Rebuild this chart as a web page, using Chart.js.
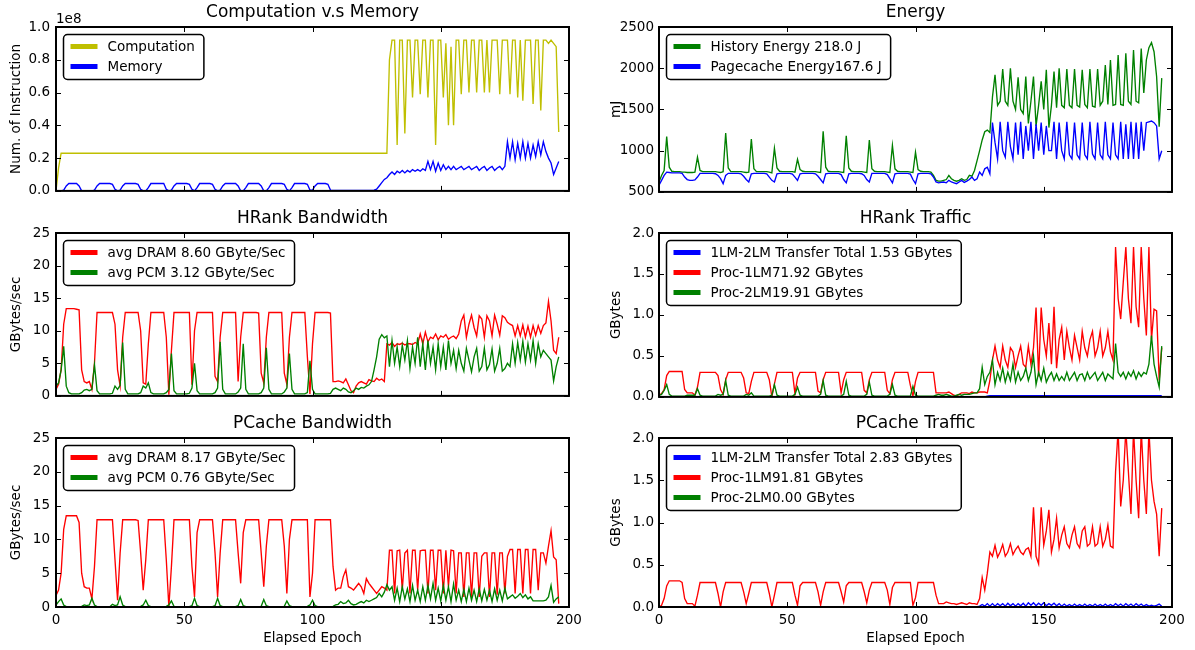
<!DOCTYPE html>
<html>
<head>
<meta charset="utf-8">
<script src="https://cdn.jsdelivr.net/npm/chart.js@4.4.1/dist/chart.umd.min.js"></script>
<style>
  body { margin: 0; background: #fff; }
  #fig { position: relative; width: 1195px; height: 650px; overflow: hidden; }
  #fig canvas { position: absolute; }
</style>
</head>
<body>
<div id="fig">
  <canvas id="cm" width="590" height="205" style="left:0;top:0"></canvas>
  <canvas id="en" width="605" height="205" style="left:590px;top:0"></canvas>
  <canvas id="hb" width="590" height="205" style="left:0;top:205px"></canvas>
  <canvas id="ht" width="605" height="205" style="left:590px;top:205px"></canvas>
  <canvas id="pb" width="590" height="240" style="left:0;top:410px"></canvas>
  <canvas id="pt" width="605" height="240" style="left:590px;top:410px"></canvas>
</div>
<script>
// one sample per epoch, epochs 0..196

const epochTicks = [0, 50, 100, 150, 200];
const instrTicks = [0, 0.2, 0.4, 0.6, 0.8, 1.0];      // x 1e8
const energyTicks = [500, 1000, 1500, 2000, 2500];
const bwTicks = [0, 5, 10, 15, 20, 25];
const trafficTicks = [0, 0.5, 1.0, 1.5, 2.0];

// instructions per epoch, in units of 1e8
const computation = [
  0, 0.14, 0.23, 0.23, 0.23, 0.23, 0.23, 0.23, 0.23, 0.23,
  0.23, 0.23, 0.23, 0.23, 0.23, 0.23, 0.23, 0.23, 0.23, 0.23,
  0.23, 0.23, 0.23, 0.23, 0.23, 0.23, 0.23, 0.23, 0.23, 0.23,
  0.23, 0.23, 0.23, 0.23, 0.23, 0.23, 0.23, 0.23, 0.23, 0.23,
  0.23, 0.23, 0.23, 0.23, 0.23, 0.23, 0.23, 0.23, 0.23, 0.23,
  0.23, 0.23, 0.23, 0.23, 0.23, 0.23, 0.23, 0.23, 0.23, 0.23,
  0.23, 0.23, 0.23, 0.23, 0.23, 0.23, 0.23, 0.23, 0.23, 0.23,
  0.23, 0.23, 0.23, 0.23, 0.23, 0.23, 0.23, 0.23, 0.23, 0.23,
  0.23, 0.23, 0.23, 0.23, 0.23, 0.23, 0.23, 0.23, 0.23, 0.23,
  0.23, 0.23, 0.23, 0.23, 0.23, 0.23, 0.23, 0.23, 0.23, 0.23,
  0.23, 0.23, 0.23, 0.23, 0.23, 0.23, 0.23, 0.23, 0.23, 0.23,
  0.23, 0.23, 0.23, 0.23, 0.23, 0.23, 0.23, 0.23, 0.23, 0.23,
  0.23, 0.23, 0.23, 0.23, 0.23, 0.23, 0.23, 0.23, 0.23, 0.23,
  0.8, 0.92, 0.92, 0.28, 0.92, 0.92, 0.35, 0.92, 0.92, 0.57,
  0.92, 0.92, 0.59, 0.92, 0.92, 0.57, 0.92, 0.92, 0.28, 0.92,
  0.92, 0.57, 0.9, 0.4, 0.88, 0.4, 0.92, 0.92, 0.59, 0.92,
  0.92, 0.6, 0.92, 0.92, 0.6, 0.92, 0.92, 0.6, 0.92, 0.6,
  0.92, 0.92, 0.92, 0.59, 0.92, 0.92, 0.92, 0.59, 0.92, 0.92,
  0.57, 0.92, 0.55, 0.92, 0.92, 0.92, 0.53, 0.92, 0.92, 0.49,
  0.92, 0.92, 0.9, 0.92, 0.9, 0.88, 0.36
];
const memory = [
  0, 0, 0, 0.005, 0.03, 0.045, 0.045, 0.045, 0.045, 0.03,
  0, 0, 0, 0, 0, 0.005, 0.03, 0.045, 0.045, 0.045,
  0.045, 0.045, 0.04, 0.01, 0, 0.005, 0.03, 0.045, 0.045, 0.045,
  0.045, 0.045, 0.04, 0.01, 0, 0, 0.02, 0.045, 0.045, 0.045,
  0.045, 0.045, 0.045, 0.01, 0, 0.005, 0.03, 0.045, 0.045, 0.045,
  0.045, 0.045, 0.04, 0.01, 0, 0.02, 0.045, 0.045, 0.045, 0.045,
  0.045, 0.04, 0.01, 0, 0.005, 0.03, 0.045, 0.045, 0.045, 0.045,
  0.045, 0.03, 0, 0, 0.02, 0.045, 0.045, 0.045, 0.045, 0.045,
  0.03, 0, 0, 0.02, 0.045, 0.045, 0.045, 0.045, 0.045, 0.04,
  0.01, 0, 0.02, 0.045, 0.045, 0.045, 0.045, 0.045, 0.04, 0.005,
  0.005, 0.03, 0.045, 0.045, 0.045, 0.045, 0.04, 0.005, 0.003, 0.003,
  0.003, 0.003, 0.003, 0.003, 0.003, 0.003, 0.003, 0.003, 0.003, 0.003,
  0.003, 0.003, 0.003, 0.003, 0.005, 0.01, 0.03, 0.05, 0.07, 0.08,
  0.1, 0.115, 0.1, 0.12, 0.11, 0.125, 0.11, 0.125, 0.115, 0.13,
  0.12, 0.13, 0.12, 0.135, 0.125, 0.18, 0.13, 0.18, 0.12, 0.17,
  0.125, 0.16, 0.13, 0.15, 0.13, 0.15, 0.13, 0.14, 0.15, 0.13,
  0.14, 0.15, 0.13, 0.14, 0.15, 0.125, 0.14, 0.15, 0.125, 0.14,
  0.15, 0.125, 0.14, 0.15, 0.13, 0.15, 0.3, 0.2, 0.3, 0.19,
  0.29, 0.2, 0.3, 0.2, 0.29, 0.2, 0.28, 0.21, 0.3, 0.22,
  0.3, 0.24, 0.2, 0.17, 0.1, 0.14, 0.18
];

// energy per epoch, mJ
const historyEnergy = [
  620, 700, 760, 1170, 800, 750, 745, 745, 745, 740,
  740, 735, 735, 735, 740, 920, 760, 745, 745, 745,
  745, 745, 745, 740, 735, 745, 1215, 790, 745, 745,
  745, 745, 745, 740, 735, 740, 1140, 780, 745, 745,
  745, 745, 745, 740, 730, 1030, 790, 750, 745, 745,
  745, 745, 745, 740, 895, 770, 750, 745, 745, 745,
  745, 745, 740, 735, 1235, 800, 750, 745, 745, 745,
  745, 740, 735, 1180, 790, 750, 745, 745, 745, 745,
  740, 735, 1130, 780, 750, 745, 745, 745, 745, 740,
  735, 1065, 780, 750, 745, 745, 745, 745, 740, 735,
  980, 770, 750, 745, 745, 745, 740, 700, 640, 630,
  630, 640, 650, 700, 660, 640, 630, 640, 660, 640,
  650, 700, 690, 760, 880, 1000, 1130, 1230, 1250, 1220,
  1650, 1920, 1550, 1600, 1990, 1600, 1550, 2000, 1600, 1500,
  1890, 1500, 1450, 1900, 1330, 1600, 1900, 1300, 1550, 1840,
  1500, 1980, 1280, 1550, 1960, 1520, 2000, 1550, 1520, 1990,
  1550, 1520, 1990, 1550, 1530, 1980, 1560, 1520, 1990, 1540,
  1530, 1990, 1550, 1600, 2040, 1560, 2100, 1550, 1560, 2160,
  1560, 1550, 2180, 1600, 1560, 2220, 1600, 1580, 2240, 1700,
  2100, 2250, 2310, 2200, 1900, 1290, 1880
];
const pagecacheEnergy = [
  580, 640, 700, 740, 735, 730, 730, 730, 730, 725,
  680, 650, 640, 640, 645, 680, 725, 725, 725, 725,
  725, 725, 720, 700, 660, 600, 700, 725, 725, 725,
  725, 725, 720, 690, 650, 620, 720, 725, 725, 725,
  725, 725, 720, 680, 640, 620, 720, 725, 725, 725,
  725, 725, 715, 680, 640, 720, 725, 725, 725, 725,
  725, 720, 690, 650, 610, 720, 725, 725, 725, 725,
  725, 710, 650, 610, 720, 725, 725, 725, 725, 720,
  700, 650, 620, 725, 725, 725, 725, 725, 725, 710,
  660, 610, 720, 725, 725, 725, 725, 725, 715, 650,
  600, 720, 725, 725, 725, 725, 720, 680, 620, 610,
  615, 620, 610, 640, 620, 610, 600, 620, 640, 615,
  630, 650, 680, 640, 660, 740, 700, 780, 800, 720,
  1340, 1100, 900, 1350, 1000, 920, 1350, 1050, 900, 1340,
  950, 1350, 900, 1300, 1000, 1350, 900, 1320, 1000, 1340,
  950, 1300, 1000, 1000, 1350, 900, 1340, 1000, 900, 1350,
  950, 900, 1340, 950, 900, 1340, 950, 900, 1350, 960,
  900, 1340, 950, 900, 1350, 950, 900, 1340, 950, 900,
  1350, 900, 1320, 900, 1350, 900, 1340, 900, 1350, 1000,
  1340, 1350, 1360, 1340, 1300, 900, 1000
];

// HRank bandwidth, GByte/s
const hrankDram = [
  1.0, 1.8, 4.0, 11.0, 13.4, 13.4, 13.4, 13.4, 13.3, 13.2,
  4.0, 2.2, 2.0, 2.2, 1.0, 5.0, 12.8, 12.8, 12.8, 12.8,
  12.8, 12.8, 12.8, 11.0, 4.0, 1.5, 9.0, 12.8, 12.8, 12.8,
  12.8, 12.8, 12.8, 10.0, 2.0, 1.8, 8.0, 12.8, 12.8, 12.8,
  12.8, 12.8, 12.8, 9.0, 0.2, 7.0, 12.8, 12.8, 12.8, 12.8,
  12.8, 12.8, 12.8, 1.7, 10.0, 12.8, 12.8, 12.8, 12.8, 12.8,
  12.8, 12.8, 3.0, 2.2, 9.0, 12.8, 12.8, 12.8, 12.8, 12.8,
  12.8, 2.2, 9.0, 12.8, 12.8, 12.8, 12.8, 12.8, 12.8, 12.7,
  3.5, 2.0, 9.0, 12.8, 12.8, 12.8, 12.8, 12.8, 12.8, 3.5,
  1.8, 9.0, 12.8, 12.8, 12.8, 12.8, 12.8, 12.8, 6.0, 0.3,
  8.0, 12.8, 12.8, 12.8, 12.8, 12.8, 12.8, 12.7, 2.2, 2.2,
  2.3, 2.2, 2.0, 2.6, 1.7, 0.8, 0.5, 1.5, 2.0, 2.2,
  2.0, 1.8, 2.5, 2.3, 2.2, 2.7, 2.4, 2.6, 2.2, 8.0,
  7.8, 8.2, 7.6, 8.0, 7.9, 8.1, 7.8, 8.0, 8.0, 7.9,
  8.2, 8.0, 9.5, 8.0, 9.8, 8.3, 9.0, 8.8, 9.5, 8.6,
  9.2, 9.0, 9.4, 8.7, 9.0, 9.2, 8.8, 9.5, 11.5, 12.4,
  9.0, 11.0, 12.4, 10.5, 9.2, 12.3, 11.8, 9.0, 12.3, 11.5,
  9.2, 12.4, 11.0, 9.3, 12.3, 12.0, 11.3, 11.0, 10.8, 9.2,
  10.8, 9.2, 10.9, 9.0, 10.7, 9.0, 10.8, 9.3, 10.8, 9.6,
  10.8, 11.2, 14.5, 11.5, 7.0, 6.5, 9.0
];
const hrankPcm = [
  1.5, 2.0, 4.0, 7.6, 1.5, 0.5, 0.3, 0.3, 0.3, 0.3,
  0.5, 0.9, 1.0, 0.8, 1.0, 4.8, 0.8, 0.3, 0.3, 0.3,
  0.3, 0.3, 0.4, 1.5, 1.0, 1.6, 8.2, 1.0, 0.3, 0.3,
  0.3, 0.3, 0.3, 0.5, 1.5, 1.2, 2.0, 0.5, 0.3, 0.3,
  0.3, 0.3, 0.3, 0.5, 1.0, 6.5, 0.8, 0.3, 0.3, 0.3,
  0.3, 0.3, 0.4, 1.2, 5.0, 0.8, 0.3, 0.3, 0.3, 0.3,
  0.3, 0.3, 0.5, 1.2, 8.3, 1.0, 0.3, 0.3, 0.3, 0.3,
  0.3, 0.6, 1.2, 8.0, 1.0, 0.3, 0.3, 0.3, 0.3, 0.3,
  0.5, 1.2, 7.4, 1.0, 0.3, 0.3, 0.3, 0.3, 0.3, 0.6,
  1.2, 6.5, 1.0, 0.3, 0.3, 0.3, 0.3, 0.3, 0.5, 5.4,
  1.0, 0.3, 0.3, 0.3, 0.3, 0.3, 0.3, 0.4, 1.0, 1.2,
  1.0, 0.8, 1.2, 1.0, 0.6, 0.5, 0.8, 1.2, 1.0, 1.3,
  1.2, 1.5, 1.7, 2.2, 4.0, 6.0, 8.7, 9.4, 8.9, 9.2,
  4.5, 8.5, 5.0, 7.5, 4.5, 7.8, 5.5, 8.5, 4.2, 7.5,
  5.0, 9.0, 4.5, 8.0, 4.0, 8.5, 5.0, 7.5, 4.0, 8.0,
  4.5, 7.5, 4.0, 8.5, 5.0, 7.0, 4.2, 7.0, 5.0, 3.8,
  7.3, 5.5, 3.7, 6.0, 7.3, 3.8, 4.5, 7.3, 4.0, 4.8,
  7.2, 3.8, 5.0, 7.3, 3.8, 4.2, 5.0, 4.5, 8.0, 5.0,
  8.2, 5.5, 8.4, 5.2, 8.0, 5.5, 8.5, 5.0, 8.0, 6.0,
  7.0, 6.5, 6.0, 5.5, 2.3, 4.5, 6.0
];

// HRank traffic, GBytes per epoch
const hrankXfer = [
  0, 0, 0, 0, 0, 0, 0, 0, 0, 0,
  0, 0, 0, 0, 0, 0, 0, 0, 0, 0,
  0, 0, 0, 0, 0, 0, 0, 0, 0, 0,
  0, 0, 0, 0, 0, 0, 0, 0, 0, 0,
  0, 0, 0, 0, 0, 0, 0, 0, 0, 0,
  0, 0, 0, 0, 0, 0, 0, 0, 0, 0,
  0, 0, 0, 0, 0, 0, 0, 0, 0, 0,
  0, 0, 0, 0, 0, 0, 0, 0, 0, 0,
  0, 0, 0, 0, 0, 0, 0, 0, 0, 0,
  0, 0, 0, 0, 0, 0, 0, 0, 0, 0,
  0, 0, 0, 0, 0, 0, 0, 0, 0, 0,
  0, 0, 0, 0, 0, 0, 0, 0, 0, 0,
  0, 0, 0, 0, 0, 0, 0, 0, 0.01, 0.015,
  0.015, 0.015, 0.015, 0.015, 0.015, 0.015, 0.015, 0.015, 0.015, 0.015,
  0.015, 0.015, 0.015, 0.015, 0.015, 0.015, 0.015, 0.015, 0.015, 0.015,
  0.015, 0.015, 0.015, 0.015, 0.015, 0.015, 0.015, 0.015, 0.015, 0.015,
  0.015, 0.015, 0.015, 0.015, 0.015, 0.015, 0.015, 0.015, 0.015, 0.015,
  0.015, 0.015, 0.015, 0.015, 0.015, 0.015, 0.015, 0.015, 0.015, 0.015,
  0.015, 0.015, 0.015, 0.015, 0.015, 0.015, 0.015, 0.015, 0.015, 0.015,
  0.015, 0.015, 0.015, 0.015, 0.015, 0.015, 0.015
];
const hrankProc1 = [
  0.02, 0.04, 0.09, 0.26, 0.31, 0.31, 0.31, 0.31, 0.31, 0.31,
  0.09, 0.05, 0.05, 0.05, 0.02, 0.12, 0.30, 0.30, 0.30, 0.30,
  0.30, 0.30, 0.30, 0.26, 0.09, 0.03, 0.21, 0.30, 0.30, 0.30,
  0.30, 0.30, 0.30, 0.23, 0.05, 0.04, 0.19, 0.30, 0.30, 0.30,
  0.30, 0.30, 0.30, 0.21, 0.0, 0.16, 0.30, 0.30, 0.30, 0.30,
  0.30, 0.30, 0.30, 0.04, 0.23, 0.30, 0.30, 0.30, 0.30, 0.30,
  0.30, 0.30, 0.07, 0.05, 0.21, 0.30, 0.30, 0.30, 0.30, 0.30,
  0.30, 0.05, 0.21, 0.30, 0.30, 0.30, 0.30, 0.30, 0.30, 0.30,
  0.08, 0.05, 0.21, 0.30, 0.30, 0.30, 0.30, 0.30, 0.30, 0.08,
  0.04, 0.21, 0.30, 0.30, 0.30, 0.30, 0.30, 0.30, 0.14, 0.01,
  0.19, 0.30, 0.30, 0.30, 0.30, 0.30, 0.30, 0.30, 0.05, 0.05,
  0.05, 0.05, 0.05, 0.06, 0.04, 0.02, 0.01, 0.03, 0.05, 0.05,
  0.05, 0.04, 0.06, 0.05, 0.05, 0.06, 0.06, 0.06, 0.05, 0.2,
  0.45, 0.62, 0.45, 0.36, 0.62, 0.45, 0.36, 0.6, 0.55, 0.36,
  0.5, 0.62, 0.4, 0.36, 0.62, 0.4, 0.6, 1.09, 0.25, 1.09,
  0.7, 0.5, 0.9, 0.4, 1.1, 0.35, 0.7, 0.85, 0.45, 0.8,
  0.6, 0.45, 0.75, 0.6, 0.45, 0.8, 0.6, 0.5, 0.7, 0.8,
  0.5, 0.6, 0.8, 0.5, 0.6, 0.8, 0.55, 0.45, 1.83, 1.2,
  0.95, 1.4, 1.83, 1.2, 0.9, 1.83, 1.1, 0.85, 1.83, 1.2,
  0.75, 1.83, 0.7, 1.07, 1.05, 0.2, 0.6
];
const hrankProc2 = [
  0.02, 0.03, 0.08, 0.15, 0.03, 0.01, 0.01, 0.01, 0.01, 0.01,
  0.01, 0.02, 0.02, 0.02, 0.02, 0.1, 0.02, 0.01, 0.01, 0.01,
  0.01, 0.01, 0.01, 0.03, 0.02, 0.03, 0.2, 0.02, 0.01, 0.01,
  0.01, 0.01, 0.01, 0.01, 0.03, 0.02, 0.05, 0.01, 0.01, 0.01,
  0.01, 0.01, 0.01, 0.01, 0.02, 0.15, 0.02, 0.01, 0.01, 0.01,
  0.01, 0.01, 0.01, 0.03, 0.12, 0.02, 0.01, 0.01, 0.01, 0.01,
  0.01, 0.01, 0.01, 0.03, 0.2, 0.02, 0.01, 0.01, 0.01, 0.01,
  0.01, 0.01, 0.03, 0.19, 0.02, 0.01, 0.01, 0.01, 0.01, 0.01,
  0.01, 0.03, 0.18, 0.02, 0.01, 0.01, 0.01, 0.01, 0.01, 0.01,
  0.03, 0.15, 0.02, 0.01, 0.01, 0.01, 0.01, 0.01, 0.01, 0.13,
  0.02, 0.01, 0.01, 0.01, 0.01, 0.01, 0.01, 0.01, 0.02, 0.03,
  0.02, 0.02, 0.03, 0.02, 0.01, 0.01, 0.02, 0.03, 0.02, 0.03,
  0.03, 0.03, 0.04, 0.05, 0.05, 0.1, 0.36, 0.15, 0.25, 0.3,
  0.45, 0.15, 0.3, 0.2, 0.35, 0.18, 0.3, 0.2, 0.4, 0.18,
  0.3, 0.2, 0.25, 0.35, 0.2, 0.3, 0.5, 0.15, 0.3, 0.2,
  0.35, 0.18, 0.25, 0.3, 0.2, 0.28, 0.2, 0.25, 0.2, 0.3,
  0.2, 0.25, 0.3, 0.2, 0.27, 0.28, 0.2, 0.3, 0.22, 0.26,
  0.3, 0.2, 0.25, 0.3, 0.2, 0.28, 0.25, 0.22, 0.65, 0.3,
  0.25, 0.3, 0.22, 0.3, 0.25, 0.32, 0.22, 0.3, 0.25, 0.3,
  0.28, 0.4, 0.75, 0.4, 0.25, 0.12, 0.62
];

// PCache bandwidth, GByte/s
const pcacheDram = [
  1.7, 2.5, 5.0, 11.5, 13.5, 13.5, 13.5, 13.5, 13.5, 12.5,
  5.0, 3.0, 2.8, 2.8, 1.2, 6.0, 12.9, 12.9, 12.9, 12.9,
  12.9, 12.9, 12.9, 7.0, 1.0, 8.0, 12.9, 12.9, 12.9, 12.9,
  12.9, 12.9, 12.8, 8.0, 2.5, 7.0, 12.9, 12.9, 12.9, 12.9,
  12.9, 12.9, 12.9, 7.0, 0.0, 6.0, 12.9, 12.9, 12.9, 12.9,
  12.9, 12.9, 12.9, 6.0, 1.5, 11.0, 12.9, 12.9, 12.9, 12.9,
  12.9, 12.9, 8.0, 1.5, 8.0, 12.9, 12.9, 12.9, 12.9, 12.9,
  12.9, 8.0, 3.5, 11.0, 12.9, 12.9, 12.9, 12.9, 12.9, 12.9,
  8.0, 3.0, 9.0, 12.9, 12.9, 12.9, 12.9, 12.9, 12.9, 9.0,
  2.0, 10.0, 12.9, 12.9, 12.9, 12.9, 12.9, 12.9, 12.9, 1.5,
  5.0, 12.9, 12.9, 12.9, 12.9, 12.9, 12.9, 12.9, 6.0, 2.5,
  2.8, 2.8, 4.5, 5.5, 3.0, 2.8, 2.5, 3.0, 3.5, 3.0,
  2.0, 4.2, 3.5, 3.0, 2.5, 2.0, 2.5, 3.0, 2.8, 2.5,
  8.4, 8.4, 2.0, 8.3, 8.4, 2.5, 8.0, 8.4, 2.0, 8.4,
  8.4, 2.5, 8.3, 8.4, 8.4, 2.0, 8.4, 8.4, 2.5, 8.4,
  8.4, 2.0, 8.4, 3.0, 8.4, 8.3, 2.0, 8.0, 8.0, 1.5,
  8.0, 8.0, 1.5, 8.0, 8.0, 1.5, 7.5, 8.0, 8.0, 1.5,
  8.0, 8.0, 1.8, 8.0, 8.0, 2.0, 7.5, 8.5, 8.5, 2.0,
  8.5, 8.5, 2.0, 8.5, 8.5, 2.0, 8.5, 8.5, 2.5, 8.0,
  8.0, 6.5, 9.0, 11.3, 7.4, 7.0, 0.5
];
const pcachePcm = [
  0.3, 0.8, 1.2, 0.3, 0.05, 0.05, 0.05, 0.05, 0.05, 0.05,
  0.1, 0.3, 0.2, 0.3, 1.3, 0.3, 0.05, 0.05, 0.05, 0.05,
  0.05, 0.05, 0.4, 0.2, 0.3, 1.5, 0.3, 0.05, 0.05, 0.05,
  0.05, 0.05, 0.05, 0.1, 0.3, 1.0, 0.2, 0.05, 0.05, 0.05,
  0.05, 0.05, 0.05, 0.1, 0.3, 0.9, 0.1, 0.05, 0.05, 0.05,
  0.05, 0.05, 0.05, 0.2, 1.3, 0.2, 0.05, 0.05, 0.05, 0.05,
  0.05, 0.05, 0.2, 1.3, 0.2, 0.05, 0.05, 0.05, 0.05, 0.05,
  0.05, 0.2, 1.1, 0.2, 0.05, 0.05, 0.05, 0.05, 0.05, 0.05,
  0.1, 1.1, 0.2, 0.05, 0.05, 0.05, 0.05, 0.05, 0.05, 0.1,
  0.9, 0.2, 0.05, 0.05, 0.05, 0.05, 0.05, 0.05, 0.1, 0.3,
  1.0, 0.2, 0.05, 0.05, 0.05, 0.05, 0.05, 0.05, 0.1, 0.3,
  0.4, 0.8, 0.5, 0.6, 1.0, 0.5, 0.3, 0.4, 0.6, 0.8,
  0.6, 1.0, 0.8, 1.0, 1.2, 1.4, 2.0, 1.5, 2.2, 3.3,
  2.5, 3.0, 1.0, 2.8, 0.8, 3.0, 1.2, 2.7, 0.8, 3.2,
  1.0, 2.5, 0.8, 3.0, 1.0, 3.2, 1.2, 3.5, 1.0, 2.8,
  0.9, 3.2, 1.0, 3.0, 0.8, 3.4, 1.0, 2.5, 0.8, 2.6,
  0.8, 2.8, 1.0, 2.5, 0.8, 2.7, 0.9, 2.6, 1.0, 2.5,
  0.8, 2.7, 1.0, 2.5, 0.9, 2.8, 1.2, 1.5, 1.8, 1.3,
  1.6, 2.0, 1.4, 1.8, 1.2, 1.5, 0.9, 0.9, 0.9, 0.9,
  0.9, 1.0, 1.5, 3.2, 0.7, 1.2, 1.5
];

// PCache traffic, GBytes per epoch
const pcacheXfer = [
  0, 0, 0, 0, 0, 0, 0, 0, 0, 0,
  0, 0, 0, 0, 0, 0, 0, 0, 0, 0,
  0, 0, 0, 0, 0, 0, 0, 0, 0, 0,
  0, 0, 0, 0, 0, 0, 0, 0, 0, 0,
  0, 0, 0, 0, 0, 0, 0, 0, 0, 0,
  0, 0, 0, 0, 0, 0, 0, 0, 0, 0,
  0, 0, 0, 0, 0, 0, 0, 0, 0, 0,
  0, 0, 0, 0, 0, 0, 0, 0, 0, 0,
  0, 0, 0, 0, 0, 0, 0, 0, 0, 0,
  0, 0, 0, 0, 0, 0, 0, 0, 0, 0,
  0, 0, 0, 0, 0, 0, 0, 0, 0, 0,
  0, 0, 0, 0, 0, 0, 0, 0, 0, 0,
  0, 0, 0, 0, 0, 0.01, 0.03, 0.01, 0.04, 0.01,
  0.04, 0.01, 0.04, 0.015, 0.04, 0.01, 0.045, 0.015, 0.04, 0.01,
  0.04, 0.015, 0.045, 0.01, 0.05, 0.02, 0.05, 0.015, 0.045, 0.02,
  0.05, 0.015, 0.04, 0.02, 0.045, 0.015, 0.04, 0.01, 0.035, 0.01,
  0.03, 0.01, 0.035, 0.01, 0.03, 0.01, 0.035, 0.01, 0.03, 0.01,
  0.035, 0.01, 0.03, 0.01, 0.035, 0.01, 0.03, 0.01, 0.04, 0.015,
  0.035, 0.01, 0.04, 0.015, 0.035, 0.01, 0.04, 0.015, 0.035, 0.01,
  0.03, 0.01, 0.02, 0.01, 0.02, 0.035, 0.01
];
const pcacheProc1 = [
  0.0, 0.02, 0.1, 0.25, 0.31, 0.31, 0.31, 0.31, 0.31, 0.29,
  0.1, 0.04, 0.04, 0.04, 0.01, 0.14, 0.29, 0.29, 0.29, 0.29,
  0.29, 0.29, 0.29, 0.16, 0.0, 0.18, 0.29, 0.29, 0.29, 0.29,
  0.29, 0.29, 0.29, 0.18, 0.04, 0.16, 0.29, 0.29, 0.29, 0.29,
  0.29, 0.29, 0.29, 0.16, 0.0, 0.14, 0.29, 0.29, 0.29, 0.29,
  0.29, 0.29, 0.29, 0.14, 0.02, 0.25, 0.29, 0.29, 0.29, 0.29,
  0.29, 0.29, 0.18, 0.02, 0.18, 0.29, 0.29, 0.29, 0.29, 0.29,
  0.29, 0.18, 0.06, 0.25, 0.29, 0.29, 0.29, 0.29, 0.29, 0.29,
  0.18, 0.05, 0.2, 0.29, 0.29, 0.29, 0.29, 0.29, 0.29, 0.2,
  0.03, 0.23, 0.29, 0.29, 0.29, 0.29, 0.29, 0.29, 0.29, 0.02,
  0.11, 0.29, 0.29, 0.29, 0.29, 0.29, 0.29, 0.29, 0.14, 0.04,
  0.04, 0.04, 0.06, 0.05, 0.04, 0.04, 0.03, 0.04, 0.05, 0.04,
  0.03, 0.05, 0.04, 0.04, 0.03, 0.1, 0.35, 0.2, 0.4, 0.65,
  0.6, 0.73, 0.59, 0.65, 0.74, 0.6, 0.65, 0.75, 0.62, 0.68,
  0.72, 0.65, 0.62, 0.68, 0.7, 0.6, 1.18, 0.6, 0.51, 1.18,
  0.73, 0.9, 1.15, 0.65, 0.8, 1.05, 0.7, 0.85, 0.95, 0.75,
  0.7, 0.85, 0.95, 0.75, 0.7, 0.9, 0.95, 0.72, 0.75, 0.95,
  0.72, 0.75, 0.95, 0.72, 0.8, 0.97, 0.72, 0.7, 1.6, 2.1,
  1.19, 1.5, 2.1, 1.6, 1.1, 2.1, 1.5, 1.05, 2.1, 1.5,
  1.1, 2.1, 1.5, 1.25, 1.1, 0.6, 1.17
];
const pcacheProc2 = [
  0, 0, 0, 0, 0, 0, 0, 0, 0, 0,
  0, 0, 0, 0, 0, 0, 0, 0, 0, 0,
  0, 0, 0, 0, 0, 0, 0, 0, 0, 0,
  0, 0, 0, 0, 0, 0, 0, 0, 0, 0,
  0, 0, 0, 0, 0, 0, 0, 0, 0, 0,
  0, 0, 0, 0, 0, 0, 0, 0, 0, 0,
  0, 0, 0, 0, 0, 0, 0, 0, 0, 0,
  0, 0, 0, 0, 0, 0, 0, 0, 0, 0,
  0, 0, 0, 0, 0, 0, 0, 0, 0, 0,
  0, 0, 0, 0, 0, 0, 0, 0, 0, 0,
  0, 0, 0, 0, 0, 0, 0, 0, 0, 0,
  0, 0, 0, 0, 0, 0, 0, 0, 0, 0,
  0, 0, 0, 0, 0, 0, 0, 0, 0, 0,
  0, 0, 0, 0, 0, 0, 0, 0, 0, 0,
  0, 0, 0, 0, 0, 0, 0, 0, 0, 0,
  0, 0, 0, 0, 0, 0, 0, 0, 0, 0,
  0, 0, 0, 0, 0, 0, 0, 0, 0, 0,
  0, 0, 0, 0, 0, 0, 0, 0, 0, 0,
  0, 0, 0, 0, 0, 0, 0, 0, 0, 0,
  0, 0, 0, 0, 0, 0, 0
];

const FONT = "'DejaVu Sans', 'Bitstream Vera Sans', Verdana, sans-serif";
const YELLOW = '#bfbf00', BLUE = '#0000ff', GREEN = '#008000', RED = '#ff0000';

// chart-area placement per column / row, in canvas pixels
const COLS = [
  { axisW: 56, padR: 21, titlePad: 8, tickPad: 6 },
  { axisW: 69, padR: 23, titlePad: 18, tickPad: 5 }
];
const ROWS = [
  { padT: 27, xAxisH: 9 },
  { padT: 28, xAxisH: 8 },
  { padT: 28, xAxisH: 43 }
];

// frame, inward ticks, boxed legend and panel title, matplotlib style
function decor(cfg) {
  return {
    id: 'decor',
    afterDatasetsDraw(chart) {
      const { ctx, chartArea: a, scales } = chart;
      ctx.save();

      ctx.strokeStyle = '#000';
      ctx.lineWidth = 1;
      ctx.beginPath();
      scales.x.ticks.forEach(t => {
        const px = Math.round(scales.x.getPixelForValue(t.value)) + 0.5;
        ctx.moveTo(px, a.bottom); ctx.lineTo(px, a.bottom - 5);
        ctx.moveTo(px, a.top); ctx.lineTo(px, a.top + 5);
      });
      scales.y.ticks.forEach(t => {
        const py = Math.round(scales.y.getPixelForValue(t.value)) + 0.5;
        ctx.moveTo(a.left, py); ctx.lineTo(a.left + 5, py);
        ctx.moveTo(a.right, py); ctx.lineTo(a.right - 5, py);
      });
      ctx.stroke();

      ctx.lineWidth = 2;
      ctx.strokeRect(a.left, a.top, a.right - a.left, a.bottom - a.top);

      // legend
      ctx.font = '13.5px ' + FONT;
      const textW = Math.max(...cfg.series.map(s => ctx.measureText(s.label).width));
      const bx = a.left + 7.5, by = a.top + 7.5;
      const bw = 44 + textW + 9, bh = 20 * cfg.series.length + 5;
      ctx.beginPath();
      ctx.roundRect(bx, by, bw, bh, 4);
      ctx.fillStyle = '#fff';
      ctx.fill();
      ctx.lineWidth = 1.5;
      ctx.strokeStyle = '#000';
      ctx.stroke();
      ctx.textBaseline = 'middle';
      ctx.textAlign = 'left';
      cfg.series.forEach((s, i) => {
        const cy = by + 12 + 20 * i;
        ctx.beginPath();
        ctx.moveTo(bx + 7, cy);
        ctx.lineTo(bx + 34, cy);
        ctx.lineWidth = 5;
        ctx.strokeStyle = s.color;
        ctx.stroke();
        ctx.fillStyle = '#000';
        ctx.fillText(s.label, bx + 44, cy + 1);
      });

      // title
      ctx.font = '17px ' + FONT;
      ctx.textAlign = 'center';
      ctx.fillText(cfg.title, (a.left + a.right) / 2, a.top - 14);

      if (cfg.offsetText) {
        ctx.font = '13.5px ' + FONT;
        ctx.textAlign = 'left';
        ctx.textBaseline = 'alphabetic';
        ctx.fillText(cfg.offsetText, a.left, a.top - 4);
      }
      ctx.restore();
    }
  };
}

function drawPanel(id, row, col, cfg) {
  const L = COLS[col], R = ROWS[row];
  const bottomRow = row === 2;
  const font = { family: FONT, size: 13.5 };
  new Chart(document.getElementById(id), {
    type: 'line',
    data: {
      datasets: cfg.series.map((s, i) => ({
        label: s.label,
        data: s.values.map((v, k) => ({ x: k, y: v })),
        borderColor: s.color,
        borderWidth: 1.35,
        pointRadius: 0,
        tension: 0,
        fill: false,
        order: cfg.series.length - 1 - i
      }))
    },
    options: {
      responsive: false,
      animation: false,
      events: [],
      layout: { padding: { left: 0, right: L.padR, top: R.padT, bottom: 0 } },
      plugins: { legend: { display: false }, tooltip: { enabled: false } },
      scales: {
        x: {
          type: 'linear',
          min: 0,
          max: 200,
          grid: { display: false, drawTicks: false },
          border: { display: false },
          afterBuildTicks: s => { s.ticks = epochTicks.map(v => ({ value: v })); },
          ticks: { display: bottomRow, padding: 5, color: '#000', font, maxRotation: 0 },
          title: { display: bottomRow, text: 'Elapsed Epoch', color: '#000', font, padding: { top: 0, bottom: 3 } },
          afterFit: s => { s.height = R.xAxisH; }
        },
        y: {
          type: 'linear',
          min: cfg.yTicks[0],
          max: cfg.yTicks[cfg.yTicks.length - 1],
          grid: { display: false, drawTicks: false },
          border: { display: false },
          afterBuildTicks: s => { s.ticks = cfg.yTicks.map(v => ({ value: v })); },
          ticks: { padding: L.tickPad, color: '#000', font, callback: v => v.toFixed(cfg.digits) },
          title: { display: true, text: cfg.yLabel, color: '#000', font, padding: { top: L.titlePad, bottom: 0 } },
          afterFit: s => { s.width = L.axisW; }
        }
      }
    },
    plugins: [decor(cfg)]
  });
}

drawPanel('cm', 0, 0, {
  title: 'Computation v.s Memory', yLabel: 'Num. of Instruction', yTicks: instrTicks, digits: 1, offsetText: '1e8',
  series: [
    { label: 'Computation', values: computation, color: YELLOW },
    { label: 'Memory', values: memory, color: BLUE }
  ]
});
drawPanel('en', 0, 1, {
  title: 'Energy', yLabel: 'mJ', yTicks: energyTicks, digits: 0,
  series: [
    { label: 'History Energy 218.0 J', values: historyEnergy, color: GREEN },
    { label: 'Pagecache Energy167.6 J', values: pagecacheEnergy, color: BLUE }
  ]
});
drawPanel('hb', 1, 0, {
  title: 'HRank Bandwidth', yLabel: 'GBytes/sec', yTicks: bwTicks, digits: 0,
  series: [
    { label: 'avg DRAM 8.60 GByte/Sec', values: hrankDram, color: RED },
    { label: 'avg PCM 3.12 GByte/Sec', values: hrankPcm, color: GREEN }
  ]
});
drawPanel('ht', 1, 1, {
  title: 'HRank Traffic', yLabel: 'GBytes', yTicks: trafficTicks, digits: 1,
  series: [
    { label: '1LM-2LM Transfer Total 1.53 GBytes', values: hrankXfer, color: BLUE },
    { label: 'Proc-1LM71.92 GBytes', values: hrankProc1, color: RED },
    { label: 'Proc-2LM19.91 GBytes', values: hrankProc2, color: GREEN }
  ]
});
drawPanel('pb', 2, 0, {
  title: 'PCache Bandwidth', yLabel: 'GBytes/sec', yTicks: bwTicks, digits: 0,
  series: [
    { label: 'avg DRAM 8.17 GByte/Sec', values: pcacheDram, color: RED },
    { label: 'avg PCM 0.76 GByte/Sec', values: pcachePcm, color: GREEN }
  ]
});
drawPanel('pt', 2, 1, {
  title: 'PCache Traffic', yLabel: 'GBytes', yTicks: trafficTicks, digits: 1,
  series: [
    { label: '1LM-2LM Transfer Total 2.83 GBytes', values: pcacheXfer, color: BLUE },
    { label: 'Proc-1LM91.81 GBytes', values: pcacheProc1, color: RED },
    { label: 'Proc-2LM0.00 GBytes', values: pcacheProc2, color: GREEN }
  ]
});
</script>
</body>
</html>
